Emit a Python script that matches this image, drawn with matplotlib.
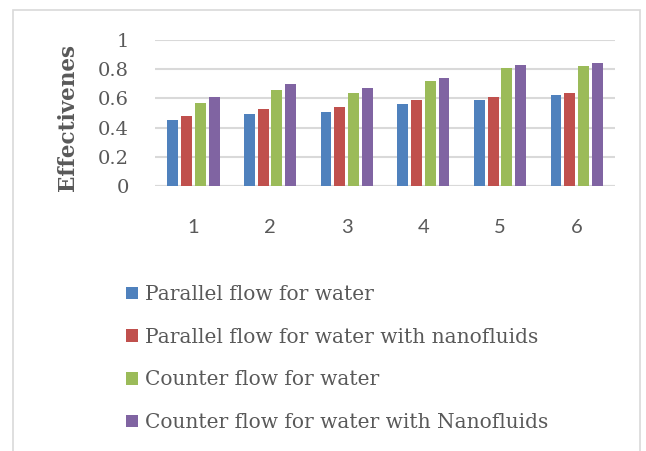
import matplotlib
matplotlib.use("Agg")
import matplotlib.pyplot as plt
import numpy as np
from matplotlib.patches import Rectangle

categorias = ["1", "2", "3", "4", "5", "6"]
paralelo_agua = [0.45, 0.49, 0.51, 0.56, 0.59, 0.62]
paralelo_nano = [0.48, 0.53, 0.54, 0.59, 0.61, 0.64]
contra_agua = [0.57, 0.66, 0.64, 0.72, 0.81, 0.82]
contra_nano = [0.61, 0.70, 0.67, 0.74, 0.83, 0.84]
etiquetas = [
    "Parallel flow for water",
    "Parallel flow for water with nanofluids",
    "Counter flow for water",
    "Counter flow for water with Nanofluids",
]
colores = ["#4F81BD", "#C0504D", "#9BBB59", "#8064A2"]
y_ticks = [0, 0.2, 0.4, 0.6, 0.8, 1]

plt.rcParams["font.family"] = ["DejaVu Serif"]
texto = "#595959"

fig = plt.figure(figsize=(6.46, 4.51), dpi=100)
ax = fig.add_axes([0.240, 0.5876, 0.712, 0.3237])

x = np.arange(len(categorias))
paso = 0.18
series = [paralelo_agua, paralelo_nano, contra_agua, contra_nano]
barras = []
for k, (vals, col) in enumerate(zip(series, colores)):
    b = ax.bar(x + (k - 1.5) * paso, vals, 0.142, color=col,
               linewidth=0, zorder=3)
    barras.append(b)

ax.set_xlim(-0.5, len(categorias) - 0.5)
ax.set_ylim(0, 1)
ax.set_yticks(y_ticks)
ax.set_yticklabels([f"{v:g}" for v in y_ticks])
ax.set_xticks(x)
ax.set_xticklabels(categorias, family="Lato")
ax.grid(axis="y", color="#D9D9D9", linewidth=1.5, zorder=0)
ax.axhline(0, color="#D9D9D9", linewidth=1.5, zorder=2)
for s in ax.spines.values():
    s.set_visible(False)
ax.tick_params(axis="y", length=0, pad=19, labelsize=14, labelcolor=texto)
ax.tick_params(axis="x", length=0, pad=24, labelsize=14.5, labelcolor=texto)

fig.text(0.1045, 0.74, "Effectivenes", rotation=90, ha="center", va="center",
         fontsize=15.5, fontweight="bold", color=texto)

fig.legend(handles=barras, labels=etiquetas, loc="upper left",
           bbox_to_anchor=(0.183, 0.386), frameon=False, fontsize=14.5,
           handlelength=0.58, handleheight=0.58, handletextpad=0.35,
           labelspacing=1.18, labelcolor=texto, borderaxespad=0)

fig.add_artist(Rectangle((13 / 646, -0.05), (640 - 13) / 646, 1.05 - 10 / 451,
                         transform=fig.transFigure, fill=False,
                         edgecolor="#D9D9D9", linewidth=1.2))

plt.savefig("out.png", dpi=100)
plt.close()
